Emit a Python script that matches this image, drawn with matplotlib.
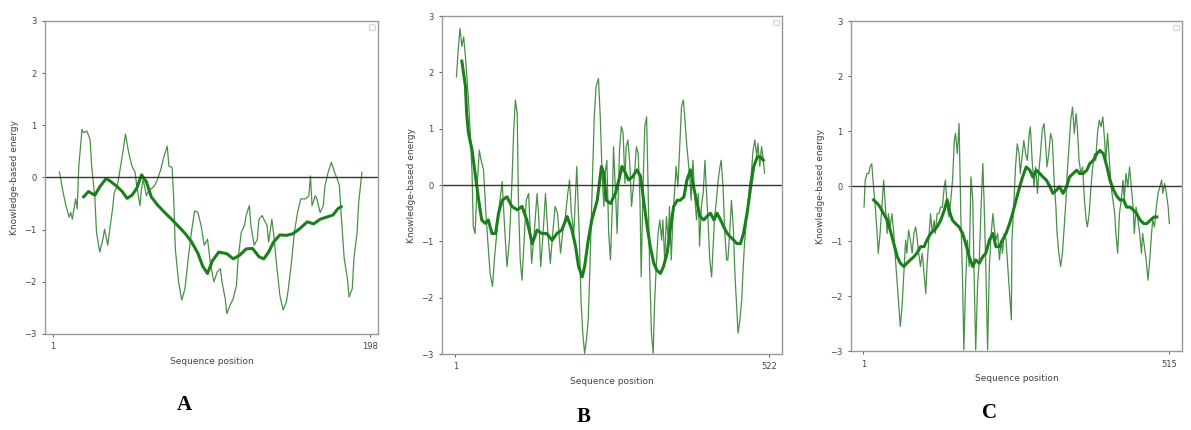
import matplotlib
matplotlib.use("Agg")
import matplotlib.pyplot as plt

# Panel A: raw profile and smoothed profile (residue, energy)
a_raw_pos = [5, 7, 9, 11, 12, 13, 15, 16, 17, 19, 20, 22, 24, 25, 27, 28, 30, 32, 33, 35,
             36, 38, 39, 41, 44, 46, 48, 50, 52, 53, 55, 56, 57, 59, 61, 62, 64, 66, 68, 70,
             72, 73, 75, 76, 77, 79, 81, 83, 85, 87, 89, 91, 93, 95, 97, 99, 101, 103, 105, 106,
             108, 109, 111, 113, 115, 116, 118, 120, 121, 123, 124, 126, 128, 129, 131, 132, 134, 135, 137, 138,
             140, 142, 144, 146, 147, 149, 151, 153, 155, 158, 160, 161, 162, 164, 165, 167, 169, 170, 172, 174,
             176, 178, 179, 180, 182, 184, 185, 187, 188, 190, 191, 193]
a_raw_val = [0.11, -0.25, -0.54, -0.76, -0.67, -0.80, -0.41, -0.60, 0.22, 0.92, 0.86, 0.89, 0.73, 0.22, -0.41, -1.05, -1.43, -1.18, -0.99, -1.30,
             -1.05, -0.60, -0.29, -0.16, 0.41, 0.83, 0.48, 0.22, 0.10, -0.16, -0.54, -0.22, -0.03, -0.35, -0.22, -0.22, -0.16, -0.03, 0.16, 0.41,
             0.60, 0.22, 0.19, -0.41, -1.37, -2.00, -2.35, -2.13, -1.56, -1.05, -0.64, -0.67, -0.92, -1.30, -1.18, -1.69, -2.00, -1.81, -1.75, -2.00,
             -2.32, -2.61, -2.45, -2.32, -2.07, -1.56, -1.05, -0.92, -0.73, -0.54, -0.92, -1.30, -1.18, -0.80, -0.73, -0.80, -0.92, -1.24, -0.80, -1.05,
             -1.69, -2.26, -2.54, -2.39, -2.19, -1.69, -1.05, -0.67, -0.41, -0.41, -0.35, 0.03, -0.54, -0.35, -0.41, -0.67, -0.54, -0.16, 0.10, 0.29,
             0.10, -0.06, -0.16, -0.67, -1.56, -1.94, -2.29, -2.13, -1.56, -1.05, -0.48, 0.10]
a_avg_pos = [20, 23, 27, 30, 34, 37, 41, 44, 47, 50, 53, 56, 59, 62, 66, 71, 75, 79, 83, 87,
             91, 94, 97, 100, 104, 109, 113, 117, 121, 125, 129, 132, 135, 138, 142, 146, 150, 154, 159, 163,
             167, 171, 175, 178, 180]
a_avg_val = [-0.37, -0.27, -0.34, -0.18, -0.02, -0.08, -0.18, -0.27, -0.40, -0.34, -0.21, 0.05, -0.08, -0.37, -0.53, -0.69, -0.81, -0.94, -1.07, -1.23,
             -1.45, -1.70, -1.84, -1.60, -1.43, -1.46, -1.56, -1.49, -1.37, -1.36, -1.52, -1.56, -1.43, -1.24, -1.10, -1.11, -1.08, -0.99, -0.85, -0.89,
             -0.80, -0.76, -0.72, -0.60, -0.56]

# Panel B
b_raw_pos = [3, 6, 9, 12, 15, 18, 20, 23, 26, 29, 31, 34, 37, 41, 44, 48, 52, 55, 59, 63,
             66, 70, 74, 79, 83, 87, 91, 95, 98, 101, 104, 106, 109, 112, 116, 119, 123, 126, 128, 133,
             137, 140, 143, 147, 151, 155, 159, 163, 167, 171, 176, 180, 184, 188, 191, 194, 198, 203, 207, 210,
             213, 216, 219, 222, 224, 228, 232, 235, 239, 242, 245, 248, 250, 253, 256, 259, 262, 264, 267, 270,
             274, 277, 280, 283, 285, 288, 291, 294, 296, 299, 302, 305, 308, 310, 313, 316, 319, 321, 324, 327,
             330, 332, 335, 338, 341, 344, 346, 349, 352, 355, 357, 360, 363, 366, 368, 371, 374, 377, 380, 382,
             385, 388, 391, 393, 396, 399, 402, 405, 407, 410, 413, 416, 418, 421, 424, 427, 430, 432, 435, 438,
             441, 443, 446, 449, 452, 454, 457, 460, 463, 466, 468, 471, 474, 477, 479, 482, 485, 488, 490, 493,
             496, 499, 502, 504, 507, 510, 513, 515]
b_raw_val = [1.92, 2.40, 2.78, 2.46, 2.63, 2.28, 1.98, 1.51, 0.92, 0.21, -0.74, -0.86, -0.09, 0.62, 0.44, 0.27, -0.50, -0.98, -1.57, -1.80,
             -1.33, -0.86, -0.38, 0.06, -0.74, -1.45, -0.98, -0.03, 0.92, 1.51, 1.27, -0.27, -1.33, -1.69, -0.86, -0.27, -0.15, -0.92, -1.39, -0.74,
             -0.15, -0.62, -1.45, -0.86, -0.15, -0.86, -1.39, -0.86, -0.38, -0.50, -1.21, -0.80, -0.56, -0.15, 0.09, -0.50, -0.86, 0.33, -0.86, -2.04,
             -2.63, -2.99, -2.75, -2.40, -1.75, -0.27, 1.21, 1.75, 1.89, 1.21, 0.21, -0.38, 0.21, 0.44, -0.86, -1.33, -0.38, 0.68, -0.03, -0.86,
             0.62, 1.04, 0.92, 0.03, 0.68, 0.80, 0.38, -0.38, -0.15, 0.21, 0.68, 0.56, -0.27, -1.63, -0.03, 1.04, 1.21, 0.21, -1.45, -2.63,
             -2.99, -2.16, -1.45, -0.86, -0.62, -0.98, -0.62, -1.33, -0.56, -0.98, -0.38, -1.33, -0.50, -0.03, 0.33, -0.03, 0.68, 1.39, 1.51, 1.27,
             0.80, 0.44, 0.09, -0.27, 0.44, -0.21, -0.62, -0.15, -1.09, -0.38, -0.15, 0.44, -0.03, -0.62, -1.33, -1.63, -0.98, -0.56, -0.27, 0.09,
             0.33, 0.44, -0.03, -0.86, -1.33, -1.33, -0.86, -0.27, -0.74, -1.63, -2.04, -2.63, -2.40, -2.04, -1.57, -0.98, -0.62, -0.27, -0.03, 0.21,
             0.62, 0.80, 0.50, 0.74, 0.33, 0.68, 0.44, 0.21]
b_avg_pos = [12, 18, 20, 23, 29, 34, 40, 45, 51, 56, 62, 68, 73, 79, 87, 95, 104, 112, 120, 129,
             137, 145, 153, 162, 170, 178, 187, 195, 201, 206, 212, 216, 222, 228, 237, 244, 248, 252, 259, 267,
             273, 278, 284, 289, 296, 303, 309, 314, 320, 325, 331, 336, 342, 347, 353, 359, 364, 370, 375, 381,
             386, 392, 397, 403, 408, 414, 419, 425, 431, 436, 442, 447, 453, 458, 464, 469, 475, 480, 486, 492,
             497, 503, 508, 513]
b_avg_val = [2.20, 1.75, 1.27, 0.92, 0.62, 0.21, -0.27, -0.62, -0.68, -0.62, -0.86, -0.86, -0.50, -0.27, -0.21, -0.38, -0.44, -0.38, -0.62, -1.04,
             -0.80, -0.86, -0.86, -0.98, -0.86, -0.80, -0.56, -0.80, -1.09, -1.45, -1.63, -1.45, -0.98, -0.62, -0.27, 0.33, 0.21, -0.27, -0.33, -0.15,
             0.09, 0.33, 0.21, 0.09, 0.15, 0.27, 0.15, -0.27, -0.74, -1.09, -1.39, -1.51, -1.57, -1.45, -1.21, -0.74, -0.38, -0.27, -0.27, -0.21,
             0.09, 0.27, -0.03, -0.33, -0.56, -0.62, -0.56, -0.50, -0.62, -0.50, -0.62, -0.74, -0.86, -0.92, -0.98, -1.04, -1.04, -0.86, -0.50, -0.03,
             0.33, 0.50, 0.50, 0.44]

# Panel C
c_raw_pos = [2, 4, 7, 10, 12, 15, 18, 21, 24, 26, 29, 32, 35, 38, 41, 43, 46, 49, 52, 55,
             59, 63, 66, 69, 72, 74, 77, 80, 83, 86, 89, 91, 94, 97, 100, 103, 106, 108, 111, 114,
             117, 120, 122, 125, 128, 131, 134, 137, 139, 142, 145, 148, 151, 154, 156, 159, 162, 165, 168, 170,
             173, 176, 179, 182, 185, 187, 190, 193, 196, 199, 202, 204, 207, 210, 213, 216, 219, 221, 224, 227,
             230, 233, 235, 238, 241, 244, 247, 250, 251, 254, 257, 260, 263, 265, 268, 271, 274, 277, 280, 282,
             285, 288, 291, 294, 296, 299, 302, 305, 308, 310, 313, 316, 319, 322, 325, 327, 330, 333, 336, 339,
             342, 344, 347, 350, 353, 356, 359, 361, 364, 367, 370, 373, 376, 378, 381, 384, 387, 390, 392, 395,
             398, 401, 404, 407, 409, 412, 415, 418, 421, 424, 426, 429, 432, 435, 438, 440, 443, 446, 449, 452,
             455, 457, 460, 463, 466, 469, 471, 474, 477, 480, 483, 486, 488, 491, 494, 497, 500, 503, 505, 508,
             511, 514, 516]
c_raw_val = [-0.38, 0.11, 0.23, 0.23, 0.35, 0.41, -0.01, -0.38, -0.86, -1.22, -0.86, -0.38, 0.11, -0.38, -0.86, -0.50, -0.74, -0.50, -0.86, -1.34,
             -1.95, -2.55, -2.19, -1.58, -0.98, -1.22, -0.80, -0.98, -1.22, -0.86, -0.74, -0.92, -1.22, -1.46, -1.22, -1.58, -1.95, -1.46, -0.98, -0.50,
             -0.86, -0.62, -0.86, -0.50, -0.50, -0.38, -0.38, -0.01, 0.11, -0.38, -0.56, -0.25, 0.11, 0.83, 0.96, 0.59, 1.14, -0.56, -1.77, -2.98,
             -1.77, -0.98, -1.46, 0.17, -0.25, -1.46, -2.98, -1.83, -1.34, -0.38, 0.41, -0.25, -1.46, -2.98, -1.46, -0.86, -0.50, -0.74, -0.98, -0.86,
             -1.34, -0.98, -1.22, -0.86, -0.98, -1.46, -1.95, -2.43, -0.98, -0.38, 0.35, 0.77, 0.59, 0.23, 0.53, 0.83, 0.59, 0.47, 0.96, 1.08,
             0.47, -0.01, 0.35, -0.13, 0.23, 0.59, 1.02, 1.14, 0.71, 0.35, 0.59, 0.96, 0.83, 0.11, -0.38, -0.86, -1.22, -1.46, -1.22, -0.74,
             -0.25, 0.23, 0.71, 1.20, 1.44, 0.96, 1.32, 1.08, 0.47, 0.23, 0.35, -0.25, -0.62, -0.74, -0.50, -0.01, 0.35, 0.59, 0.47, 0.96,
             1.20, 1.08, 1.26, 0.83, 0.47, 0.96, 0.47, -0.01, -0.25, -0.50, -0.86, -1.22, -0.50, -0.25, 0.11, -0.25, 0.23, -0.01, 0.35, -0.01,
             -0.38, -0.86, -0.38, -0.62, -0.86, -1.22, -0.86, -1.10, -1.34, -1.71, -1.34, -0.86, -0.62, -0.74, -0.38, -0.13, -0.01, 0.11, -0.13, 0.05,
             -0.13, -0.38, -0.68]
c_avg_pos = [18, 24, 29, 35, 41, 46, 52, 58, 63, 69, 74, 80, 86, 91, 97, 103, 108, 114, 120, 125,
             131, 137, 142, 147, 151, 156, 162, 168, 173, 179, 185, 190, 196, 202, 207, 213, 219, 224, 230, 235,
             241, 247, 252, 258, 264, 269, 275, 281, 286, 292, 298, 303, 309, 315, 320, 326, 331, 337, 343, 348,
             354, 360, 365, 371, 377, 382, 388, 394, 399, 405, 411, 416, 422, 428, 433, 439, 444, 450, 456, 461,
             467, 473, 478, 484, 490, 495]
c_avg_val = [-0.25, -0.31, -0.38, -0.50, -0.62, -0.80, -1.04, -1.28, -1.40, -1.46, -1.40, -1.34, -1.28, -1.22, -1.10, -1.10, -0.98, -0.86, -0.80, -0.74,
             -0.62, -0.44, -0.25, -0.50, -0.62, -0.68, -0.74, -0.86, -1.04, -1.28, -1.46, -1.34, -1.40, -1.28, -1.22, -0.98, -0.86, -1.10, -1.10, -0.98,
             -0.86, -0.68, -0.50, -0.25, -0.01, 0.17, 0.35, 0.29, 0.17, 0.29, 0.23, 0.17, 0.11, -0.01, -0.13, -0.07, -0.01, -0.13, -0.01, 0.17,
             0.23, 0.29, 0.23, 0.23, 0.29, 0.41, 0.47, 0.59, 0.65, 0.59, 0.35, 0.11, -0.07, -0.19, -0.25, -0.25, -0.38, -0.38, -0.44, -0.50,
             -0.62, -0.68, -0.68, -0.62, -0.56, -0.56]

lengths = [198, 522, 515]
letters = ["A", "B", "C"]

raw_color = "#4a8f4a"
avg_color = "#1b801b"

fig = plt.figure(figsize=(11.91, 4.30), dpi=100)

boxes = [[0.0378, 0.2233, 0.2796, 0.7279],
         [0.3711, 0.1767, 0.2855, 0.7860],
         [0.7145, 0.1833, 0.2783, 0.7674]]
xlims = [(-4, 203), (-21, 544), (-20, 538)]
letter_pos = [(0.155, 0.058), (0.490, 0.030), (0.831, 0.040)]

panels = [(a_raw_pos, a_raw_val, a_avg_pos, a_avg_val),
          (b_raw_pos, b_raw_val, b_avg_pos, b_avg_val),
          (c_raw_pos, c_raw_val, c_avg_pos, c_avg_val)]

for i, (rx, ry, sx, sy) in enumerate(panels):
    ax = fig.add_axes(boxes[i])
    ax.plot(rx, ry, color=raw_color, linewidth=0.9)
    ax.plot(sx, sy, color=avg_color, linewidth=2.2)
    ax.axhline(0, color="#333333", linewidth=1.0)

    ax.set_xlim(*xlims[i])
    ax.set_ylim(-3, 3)
    ax.set_xticks([1, lengths[i]])
    ax.set_yticks([-3, -2, -1, 0, 1, 2, 3])
    ax.tick_params(labelsize=6, colors="#444444", length=2.5, width=0.6)
    for s in ax.spines.values():
        s.set_color("#999999")
        s.set_linewidth(1.0)

    ax.set_xlabel("Sequence position", fontsize=6.5, color="#444444", labelpad=4)
    ax.set_ylabel("Knowledge-based energy", fontsize=6.5, color="#444444", labelpad=4)

    # empty legend box, as in the original output
    ax.legend(handles=[], loc="upper right", fontsize=5, borderpad=0.4)

    fig.text(letter_pos[i][0], letter_pos[i][1], letters[i], fontsize=15,
             fontweight="bold", family="Liberation Serif", ha="center", va="center")

fig.savefig("out.png", dpi=100)
